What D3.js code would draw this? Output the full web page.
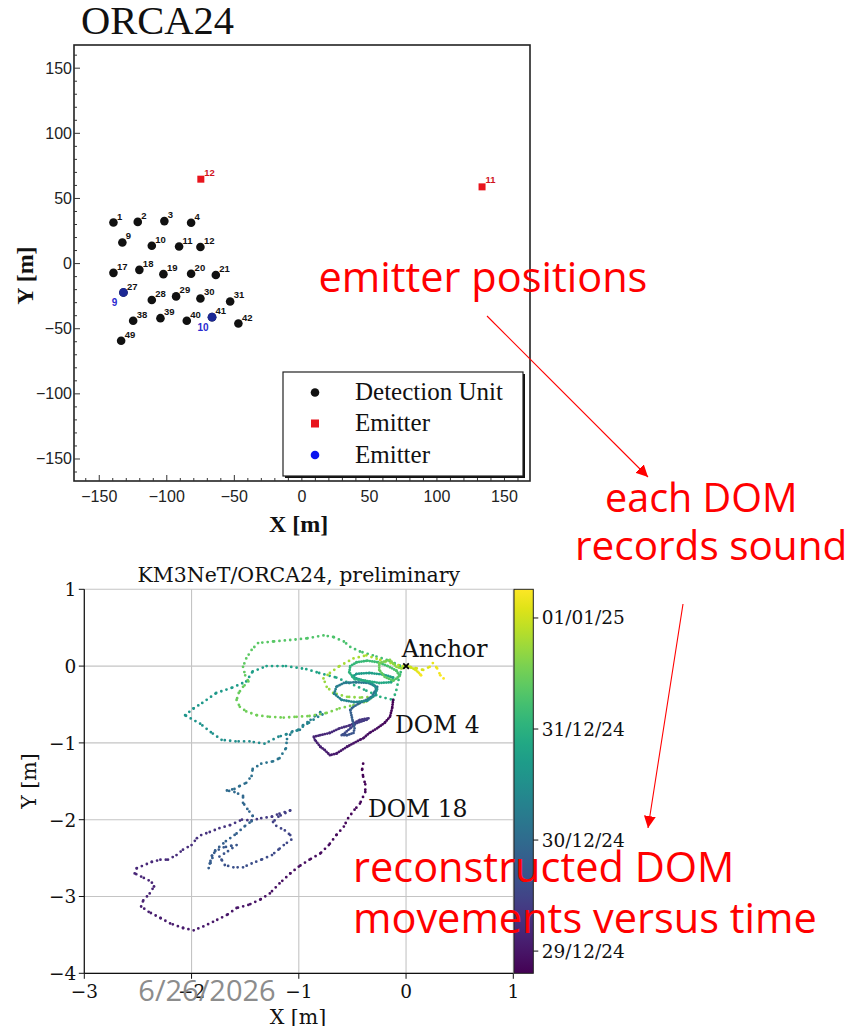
<!DOCTYPE html>
<html>
<head>
<meta charset="utf-8">
<script src="https://cdn.jsdelivr.net/npm/d3@7"></script>
<style>
  body { margin: 0; background: #fff; }
  svg { display: block; }
</style>
</head>
<body>
<svg id="chart" width="851" height="1026"></svg>
<script>
// ---------- Array layout (top panel) ----------
const duIds = [1, 2, 3, 4, 9, 10, 11, 12, 17, 18, 19, 20, 21, 27, 28, 29, 30, 31, 38, 39, 40, 41, 42, 49];
const duX = [-139.5, -121.5, -101.8, -82.0, -132.9, -111.1, -90.9, -75.1, -139.5, -120.3, -102.5, -82.0, -63.7,
             -132.1, -111.1, -93.1, -75.1, -53.1, -124.9, -104.7, -85.2, -66.5, -47.0, -133.8];
const duY = [31.5, 32.0, 32.6, 31.3, 16.2, 13.7, 13.1, 12.7, -7.1, -4.8, -8.1, -7.8, -8.8,
             -22.2, -28.0, -25.2, -26.8, -29.1, -43.9, -41.9, -43.9, -41.1, -46.0, -59.2];

const redEmitterIds = [12, 11];
const redEmitterX = [-74.8, 133.4];
const redEmitterY = [64.8, 58.9];

const blueEmitterIds = [9, 10];
const blueEmitterX = [-132.1, -66.5];
const blueEmitterY = [-22.2, -41.1];

const topMajorTicks = [-150, -100, -50, 0, 50, 100, 150];
const legendLabels = ["Detection Unit", "Emitter", "Emitter"];

// ---------- DOM trajectories (bottom panel): [x m, y m, hours after 29/12/24 00:00] ----------
const dom18Track = [
  [-0.40,-1.27,-4.8],[-0.41,-1.35,-4.6],[-0.40,-1.44,-4.4],[-0.38,-1.54,-4.2],[-0.38,-1.64,-4.0],
  [-0.43,-1.79,-3.7],[-0.48,-1.87,-3.5],[-0.54,-1.98,-3.3],[-0.58,-2.09,-3.1],[-0.65,-2.20,-2.9],
  [-0.72,-2.33,-2.7],[-0.80,-2.44,-2.5],[-0.90,-2.52,-2.3],[-1.00,-2.61,-2.0],[-1.08,-2.70,-1.8],
  [-1.18,-2.83,-1.5],[-1.27,-2.96,-1.2],[-1.36,-3.04,-0.9],[-1.47,-3.11,-0.6],[-1.58,-3.15,-0.3],
  [-1.67,-3.24,0.0],[-1.80,-3.33,0.3],[-1.89,-3.39,0.6],[-1.98,-3.44,0.9],[-2.08,-3.41,1.2],
  [-2.20,-3.35,1.5],[-2.29,-3.28,1.8],[-2.40,-3.20,2.1],[-2.47,-3.13,2.4],[-2.45,-3.05,2.7],
  [-2.39,-2.96,3.0],[-2.35,-2.87,3.3],[-2.37,-2.82,3.5],[-2.40,-2.79,3.7],[-2.47,-2.74,3.9],
  [-2.53,-2.70,4.1],[-2.51,-2.63,4.3],[-2.37,-2.55,4.7],[-2.29,-2.52,5.0],[-2.22,-2.52,5.3],
  [-2.14,-2.46,5.6],[-2.08,-2.39,5.9],[-2.00,-2.33,6.2],[-1.95,-2.24,6.5],[-1.91,-2.20,6.8],
  [-1.83,-2.16,7.1],[-1.74,-2.11,7.4],[-1.64,-2.07,7.8],[-1.53,-2.00,8.2],[-1.44,-2.01,8.6],
  [-1.35,-1.98,9.0],[-1.25,-1.96,9.4],[-1.18,-1.92,9.8],[-1.08,-1.88,10.2],
  [-1.19,-1.96,10.8],[-1.24,-2.03,11.2],[-1.21,-2.08,11.6],[-1.13,-2.14,12.0],[-1.08,-2.20,12.4],
  [-1.07,-2.26,12.8],[-1.14,-2.33,13.2],[-1.19,-2.39,13.6],[-1.25,-2.46,14.0],[-1.35,-2.52,14.4],
  [-1.44,-2.57,14.8],[-1.52,-2.62,15.2],[-1.61,-2.62,15.6],[-1.69,-2.59,16.0],[-1.72,-2.52,16.4],
  [-1.74,-2.48,16.7],[-1.66,-2.41,17.0],[-1.58,-2.33,17.3],[-1.63,-2.34,17.6],[-1.70,-2.36,17.9],
  [-1.78,-2.41,18.2],[-1.81,-2.47,18.5],[-1.83,-2.57,18.8],[-1.84,-2.63,19.1],
  [-1.78,-2.40,19.5],[-1.68,-2.28,20.0],[-1.58,-2.18,20.5],[-1.50,-2.08,21.0],[-1.44,-2.02,21.4],
  [-1.43,-1.95,21.8],[-1.48,-1.86,22.2],[-1.52,-1.78,22.6],[-1.52,-1.69,23.0],[-1.60,-1.64,23.4],
  [-1.67,-1.62,23.8],[-1.60,-1.60,24.2],[-1.55,-1.56,24.6],[-1.49,-1.52,25.0],[-1.44,-1.43,25.5],
  [-1.43,-1.34,26.0],[-1.35,-1.27,26.5],[-1.24,-1.24,27.0],[-1.18,-1.20,27.5],[-1.12,-1.07,28.0],
  [-1.11,-0.95,28.5],[-1.06,-0.85,29.0],[-0.99,-0.83,29.5],[-0.96,-0.77,30.0],[-0.89,-0.70,30.5],
  [-0.84,-0.64,31.0],[-0.80,-0.60,31.3],[-0.78,-0.63,31.6],[-0.82,-0.66,32.0],[-0.92,-0.75,32.6],
  [-1.02,-0.84,33.2],[-1.12,-0.89,33.8],[-1.19,-0.92,34.2],[-1.32,-1.01,34.8],[-1.46,-0.98,35.4],
  [-1.59,-0.98,36.0],[-1.72,-0.96,36.6],[-1.82,-0.86,37.2],[-1.92,-0.75,37.8],[-2.06,-0.64,38.4],
  [-1.98,-0.55,39.0],[-1.90,-0.48,39.5],[-1.77,-0.35,40.0],[-1.62,-0.28,40.5],[-1.49,-0.20,41.0],
  [-1.43,-0.07,41.5],[-1.30,0.00,42.0],[-1.12,0.00,42.6],[-0.93,-0.04,43.2],[-0.81,-0.09,43.8],
  [-0.65,-0.15,44.4],[-0.53,-0.22,45.0],[-0.37,-0.32,46.0],
  [-0.24,-0.40,47.0],[-0.12,-0.44,48.0],[-0.09,-0.31,49.0],[-0.07,-0.18,50.0],[-0.05,-0.08,51.0],
  [-0.06,0.01,52.0],[-0.18,0.08,52.5],[-0.31,0.14,53.0],[-0.43,0.19,53.5],[-0.52,0.25,54.0],
  [-0.58,0.32,54.4],[-0.68,0.38,54.8],[-0.77,0.40,55.2],[-0.93,0.36,55.6],[-1.08,0.34,56.0],
  [-1.24,0.32,56.4],[-1.38,0.30,56.8],[-1.44,0.21,57.1],[-1.49,0.10,57.4],[-1.52,-0.01,57.7],
  [-1.50,-0.12,58.0],[-1.47,-0.20,58.3],[-1.52,-0.27,58.6],[-1.56,-0.35,58.9],[-1.58,-0.44,59.2],
  [-1.55,-0.53,59.5],[-1.49,-0.59,59.8],[-1.39,-0.64,60.1],[-1.27,-0.66,60.4],[-1.14,-0.67,60.7],
  [-1.02,-0.66,61.0],[-0.90,-0.65,61.3],[-0.74,-0.61,61.7],[-0.62,-0.55,62.1],[-0.49,-0.51,62.5],
  [-0.37,-0.46,62.9],[-0.31,-0.40,63.3],[-0.43,-0.41,63.8],[-0.55,-0.40,64.3],[-0.68,-0.35,64.8],
  [-0.74,-0.27,65.3],[-0.77,-0.16,65.8],[-0.71,-0.09,66.3],[-0.62,0.00,66.8],[-0.49,0.10,67.3],
  [-0.37,0.14,67.8],[-0.24,0.08,68.3],[-0.12,0.03,69.0],[-0.03,0.00,70.0],[0.04,-0.01,71.0],
  [0.10,-0.03,72.0],[0.16,-0.05,73.0],[0.22,-0.01,74.0],[0.25,0.04,75.0],[0.29,-0.03,76.0],
  [0.32,-0.12,77.0],[0.35,-0.16,77.6],[0.36,-0.14,78.0]
];

const dom4Track = [
  [-0.12,-0.44,-4.8],[-0.13,-0.55,-4.2],[-0.15,-0.66,-3.6],[-0.20,-0.74,-3.0],[-0.27,-0.81,-2.4],
  [-0.34,-0.87,-1.8],[-0.40,-0.94,-1.2],[-0.43,-0.96,-0.8],[-0.55,-1.05,0.0],[-0.65,-1.14,0.8],
  [-0.71,-1.16,1.4],[-0.76,-1.09,2.0],[-0.80,-1.05,2.5],[-0.85,-0.96,3.1],[-0.86,-0.92,3.6],
  [-0.80,-0.90,4.2],[-0.71,-0.87,4.8],[-0.62,-0.81,5.6],[-0.52,-0.77,6.4],[-0.43,-0.70,7.2],
  [-0.35,-0.68,8.0],[-0.37,-0.70,9.0],[-0.46,-0.74,10.5],[-0.52,-0.81,12.0],[-0.57,-0.87,13.5],
  [-0.60,-0.90,15.0],[-0.55,-0.90,16.0],[-0.49,-0.87,17.0],[-0.48,-0.81,18.0],[-0.50,-0.70,19.0],
  [-0.52,-0.57,20.5],[-0.49,-0.53,21.5],[-0.43,-0.48,22.5],[-0.37,-0.44,23.5],[-0.32,-0.40,24.5],
  [-0.29,-0.33,25.5],[-0.27,-0.27,26.5],
  [-0.35,-0.22,27.5],[-0.47,-0.21,28.5],[-0.58,-0.22,29.5],[-0.65,-0.27,30.5],[-0.67,-0.36,31.5],
  [-0.60,-0.44,32.5],[-0.48,-0.47,33.5],[-0.36,-0.45,34.5],[-0.29,-0.38,35.5],[-0.27,-0.30,36.5],
  [-0.32,-0.22,37.5],[-0.42,-0.18,38.5],[-0.50,-0.14,39.5],[-0.46,-0.10,40.5],[-0.34,-0.09,41.5],
  [-0.21,-0.11,42.5],[-0.12,-0.15,43.5],[-0.14,-0.21,44.5],[-0.25,-0.22,45.5],[-0.38,-0.19,46.5],
  [-0.48,-0.17,47.5],[-0.53,-0.08,48.5],[-0.52,0.00,49.5],[-0.46,0.05,50.5],[-0.36,0.07,51.5],
  [-0.26,0.05,52.5],[-0.17,0.00,53.5],[-0.09,-0.06,54.5],[-0.06,-0.13,55.5],[-0.12,-0.19,56.5],
  [-0.20,-0.14,57.5],[-0.25,-0.05,58.5],[-0.25,0.04,60.0],[-0.15,0.08,62.0],[-0.09,-0.01,64.0],
  [-0.04,-0.03,66.0],[0.00,0.00,68.0],[0.05,-0.02,71.0],[0.09,-0.05,73.0],[0.12,-0.09,75.0],
  [0.14,-0.12,77.0],[0.13,-0.13,78.0]
];

const anchorPos = [0, 0];
const bottomXTicks = [-3, -2, -1, 0, 1];
const bottomYTicks = [-4, -3, -2, -1, 0, 1];
const timeRange = [-4.8, 78.2];                 // hours after 29/12/24 00:00
const colorbarTicks = [0, 24, 48, 72];
const colorbarLabels = ["29/12/24", "30/12/24", "31/12/24", "01/01/25"];

// ---------- helpers ----------
const svg = d3.select("#chart");
const fmt = v => (v < 0 ? "\u2212" + Math.abs(v) : String(v));

// ================= TOP PANEL: ORCA24 layout =================
const T = { left: 74, right: 530, top: 45, bottom: 481 };
const xT = d3.scaleLinear().domain([-168.7, 168.9]).range([T.left, T.right]);
const yT = d3.scaleLinear().domain([-166.9, 167.8]).range([T.bottom, T.top]);
const gT = svg.append("g");

svg.append("text").attr("x", 81).attr("y", 34)
  .attr("font-family", "Liberation Serif, serif").attr("font-size", 40.5).attr("fill", "#111")
  .text("ORCA24");

gT.append("rect").attr("x", T.left).attr("y", T.top)
  .attr("width", T.right - T.left).attr("height", T.bottom - T.top)
  .attr("fill", "none").attr("stroke", "#222").attr("stroke-width", 1.6);

const minorT = d3.range(-160, 170, 10).filter(v => v % 50 !== 0);
// inward ticks on the bottom and left edges
gT.selectAll(".xmaj").data(topMajorTicks).join("line")
  .attr("x1", d => xT(d)).attr("x2", d => xT(d)).attr("y1", T.bottom).attr("y2", T.bottom - 6)
  .attr("stroke", "#333").attr("stroke-width", 1);
gT.selectAll(".xmin").data(minorT).join("line")
  .attr("x1", d => xT(d)).attr("x2", d => xT(d)).attr("y1", T.bottom).attr("y2", T.bottom - 3)
  .attr("stroke", "#333").attr("stroke-width", 1);
gT.selectAll(".ymaj").data(topMajorTicks).join("line")
  .attr("y1", d => yT(d)).attr("y2", d => yT(d)).attr("x1", T.left).attr("x2", T.left + 6)
  .attr("stroke", "#333").attr("stroke-width", 1);
gT.selectAll(".ymin").data(minorT).join("line")
  .attr("y1", d => yT(d)).attr("y2", d => yT(d)).attr("x1", T.left).attr("x2", T.left + 3)
  .attr("stroke", "#333").attr("stroke-width", 1);

gT.selectAll(".xlab").data(topMajorTicks).join("text")
  .attr("x", d => xT(d)).attr("y", 502).attr("text-anchor", "middle")
  .attr("font-family", "Liberation Sans, Arial, sans-serif").attr("font-size", 16).attr("fill", "#222")
  .text(fmt);
gT.selectAll(".ylab").data(topMajorTicks).join("text")
  .attr("x", 72).attr("y", d => yT(d) + 5.5).attr("text-anchor", "end")
  .attr("font-family", "Liberation Sans, Arial, sans-serif").attr("font-size", 16).attr("fill", "#222")
  .text(fmt);

gT.append("text").attr("x", 298.7).attr("y", 532).attr("text-anchor", "middle")
  .attr("font-family", "Liberation Serif, serif").attr("font-weight", "bold").attr("font-size", 24)
  .attr("fill", "#111").text("X [m]");
gT.append("text").attr("transform", "translate(33,275.6) rotate(-90)").attr("text-anchor", "middle")
  .attr("font-family", "Liberation Serif, serif").attr("font-weight", "bold").attr("font-size", 24)
  .attr("fill", "#111").text("Y [m]");

// detection units
const duData = duIds.map((id, i) => ({ id, x: duX[i], y: duY[i] }));
gT.selectAll(".du").data(duData).join("circle")
  .attr("cx", d => xT(d.x)).attr("cy", d => yT(d.y)).attr("r", 4.3).attr("fill", "#111");
gT.selectAll(".dul").data(duData).join("text")
  .attr("x", d => xT(d.x) + 3.5).attr("y", d => yT(d.y) - 3)
  .attr("font-family", "Liberation Sans, Arial, sans-serif").attr("font-weight", "bold")
  .attr("font-size", 9.5).attr("fill", "#111").text(d => d.id);

// red emitters
const redData = redEmitterIds.map((id, i) => ({ id, x: redEmitterX[i], y: redEmitterY[i] }));
gT.selectAll(".re").data(redData).join("rect")
  .attr("x", d => xT(d.x) - 3.5).attr("y", d => yT(d.y) - 3.5).attr("width", 7).attr("height", 7)
  .attr("fill", "#e8141c");
gT.selectAll(".rel").data(redData).join("text")
  .attr("x", d => xT(d.x) + 3.5).attr("y", d => yT(d.y) - 3.5)
  .attr("font-family", "Liberation Sans, Arial, sans-serif").attr("font-weight", "bold")
  .attr("font-size", 9.5).attr("fill", "#d0141c").text(d => d.id);

// blue emitters
const blueData = blueEmitterIds.map((id, i) => ({ id, x: blueEmitterX[i], y: blueEmitterY[i] }));
gT.selectAll(".be").data(blueData).join("circle")
  .attr("cx", d => xT(d.x)).attr("cy", d => yT(d.y)).attr("r", 4.4).attr("fill", "#1c2894");
gT.selectAll(".bel").data(blueData).join("text")
  .attr("x", d => xT(d.x) - 9).attr("y", d => yT(d.y) + 13.5).attr("text-anchor", "middle")
  .attr("font-family", "Liberation Sans, Arial, sans-serif").attr("font-weight", "bold")
  .attr("font-size", 10).attr("fill", "#2a2ad0").text(d => d.id);

// legend
const L = { x: 283, y: 372, w: 240, h: 104 };
gT.append("rect").attr("x", L.x + 2).attr("y", L.y + 2).attr("width", L.w).attr("height", L.h).attr("fill", "#111");
gT.append("rect").attr("x", L.x).attr("y", L.y).attr("width", L.w).attr("height", L.h)
  .attr("fill", "#fff").attr("stroke", "#222").attr("stroke-width", 1.2);
const legRowY = [392.5, 423.5, 455];
gT.append("circle").attr("cx", 315).attr("cy", legRowY[0]).attr("r", 4.3).attr("fill", "#111");
gT.append("rect").attr("x", 311).attr("y", legRowY[1] - 4).attr("width", 8).attr("height", 8).attr("fill", "#e8141c");
gT.append("circle").attr("cx", 315).attr("cy", legRowY[2]).attr("r", 4.3).attr("fill", "#0a14f0");
gT.selectAll(".legt").data(legendLabels).join("text")
  .attr("x", 355).attr("y", (d, i) => legRowY[i] + 7.5)
  .attr("font-family", "Liberation Serif, serif").attr("font-size", 25).attr("fill", "#111")
  .text(d => d);

// ================= BOTTOM PANEL: DOM movements =================
const B = { left: 84.3, right: 513.3, top: 589.3, bottom: 973.3 };
const xB = d3.scaleLinear().domain([-3, 1]).range([B.left, B.right]);
const yB = d3.scaleLinear().domain([-4, 1]).range([B.bottom, B.top]);
const color = d3.scaleSequential(d3.interpolateViridis).domain(timeRange);
const gB = svg.append("g");
const serif = "DejaVu Serif, serif";

gB.append("text").attr("x", (B.left + B.right) / 2).attr("y", 581.5).attr("text-anchor", "middle")
  .attr("font-family", serif).attr("font-size", 20.5).attr("fill", "#111")
  .text("KM3NeT/ORCA24, preliminary");

// grid
gB.selectAll(".gx").data(bottomXTicks).join("line")
  .attr("x1", d => xB(d)).attr("x2", d => xB(d)).attr("y1", B.top).attr("y2", B.bottom)
  .attr("stroke", "#c4c4c4").attr("stroke-width", 1.1);
gB.selectAll(".gy").data(bottomYTicks).join("line")
  .attr("y1", d => yB(d)).attr("y2", d => yB(d)).attr("x1", B.left).attr("x2", B.right)
  .attr("stroke", "#c4c4c4").attr("stroke-width", 1.1);

// spines
gB.append("line").attr("x1", B.left).attr("x2", B.left).attr("y1", B.top).attr("y2", B.bottom)
  .attr("stroke", "#111").attr("stroke-width", 1.2);
gB.append("line").attr("x1", B.left).attr("x2", B.right).attr("y1", B.bottom).attr("y2", B.bottom)
  .attr("stroke", "#111").attr("stroke-width", 1.2);

// ticks + labels
gB.selectAll(".tx").data(bottomXTicks).join("line")
  .attr("x1", d => xB(d)).attr("x2", d => xB(d)).attr("y1", B.bottom).attr("y2", B.bottom + 5.5)
  .attr("stroke", "#111").attr("stroke-width", 1);
gB.selectAll(".ty").data(bottomYTicks).join("line")
  .attr("y1", d => yB(d)).attr("y2", d => yB(d)).attr("x1", B.left).attr("x2", B.left - 5.5)
  .attr("stroke", "#111").attr("stroke-width", 1);
gB.selectAll(".lx").data(bottomXTicks).join("text")
  .attr("x", d => xB(d)).attr("y", 997.5).attr("text-anchor", "middle")
  .attr("font-family", serif).attr("font-size", 18.5).attr("fill", "#111").text(fmt);
gB.selectAll(".ly").data(bottomYTicks).join("text")
  .attr("x", B.left - 8).attr("y", d => yB(d) + 6.8).attr("text-anchor", "end")
  .attr("font-family", serif).attr("font-size", 18.5).attr("fill", "#111").text(fmt);

gB.append("text").attr("x", 298).attr("y", 1023.5).attr("text-anchor", "middle")
  .attr("font-family", serif).attr("font-size", 20.5).attr("fill", "#111").text("X [m]");
gB.append("text").attr("transform", "translate(36,781) rotate(-90)").attr("text-anchor", "middle")
  .attr("font-family", serif).attr("font-size", 20.5).attr("fill", "#111").text("Y [m]");

// trajectories: dotted segments coloured by time
function drawTrack(track, dotSize, gap) {
  const g = gB.append("g");
  const segs = d3.pairs(track);
  g.selectAll("line").data(segs).join("line")
    .attr("x1", d => xB(d[0][0])).attr("y1", d => yB(d[0][1]))
    .attr("x2", d => xB(d[1][0])).attr("y2", d => yB(d[1][1]))
    .attr("stroke", d => color((d[0][2] + d[1][2]) / 2))
    .attr("stroke-width", dotSize).attr("stroke-linecap", "round")
    .attr("stroke-dasharray", `0 ${gap}`);
}
drawTrack(dom18Track, 2.8, 5.4);
drawTrack(dom4Track, 2.8, 2.4);

// anchor marker
gB.append("path").attr("d", d3.symbol(d3.symbolX, 22)())
  .attr("transform", `translate(${xB(anchorPos[0])},${yB(anchorPos[1])})`)
  .attr("stroke", "#000").attr("stroke-width", 1.8);

gB.append("text").attr("x", 401.7).attr("y", 656.7).attr("font-family", serif).attr("font-size", 23.5)
  .attr("fill", "#111").text("Anchor");
gB.append("text").attr("x", 395).attr("y", 733.3).attr("font-family", serif).attr("font-size", 23.5)
  .attr("fill", "#111").text("DOM 4");
gB.append("text").attr("x", 368).attr("y", 816.7).attr("font-family", serif).attr("font-size", 23.5)
  .attr("fill", "#111").text("DOM 18");

// colour bar
const CB = { x: 514, w: 19.3 };
const yC = d3.scaleLinear().domain(timeRange).range([B.bottom, B.top]);
const defs = svg.append("defs");
const grad = defs.append("linearGradient").attr("id", "viridisGrad")
  .attr("x1", 0).attr("y1", 1).attr("x2", 0).attr("y2", 0);
d3.range(0, 1.0001, 0.05).forEach(f => {
  grad.append("stop").attr("offset", f).attr("stop-color", d3.interpolateViridis(f));
});
gB.append("rect").attr("x", CB.x).attr("y", B.top).attr("width", CB.w).attr("height", B.bottom - B.top)
  .attr("fill", "url(#viridisGrad)").attr("stroke", "#222").attr("stroke-width", 1);
gB.selectAll(".cbt").data(colorbarTicks).join("line")
  .attr("x1", CB.x + CB.w).attr("x2", CB.x + CB.w + 5).attr("y1", d => yC(d)).attr("y2", d => yC(d))
  .attr("stroke", "#111").attr("stroke-width", 1);
gB.selectAll(".cbl").data(colorbarTicks).join("text")
  .attr("x", CB.x + CB.w + 8.5).attr("y", (d) => yC(d) + 6.5)
  .attr("font-family", serif).attr("font-size", 18.5).attr("fill", "#111")
  .text((d, i) => colorbarLabels[i]);

// ================= annotations =================
defs.append("marker").attr("id", "arrowHead").attr("viewBox", "0 0 10 10")
  .attr("refX", 10).attr("refY", 5).attr("markerWidth", 12).attr("markerHeight", 12)
  .attr("markerUnits", "userSpaceOnUse").attr("orient", "auto")
  .append("path").attr("d", "M0,0 L10,5 L0,10 Z").attr("fill", "#ff0000");

const ann = svg.append("g");
ann.append("line").attr("x1", 487).attr("y1", 316).attr("x2", 648).attr("y2", 477)
  .attr("stroke", "#ff0000").attr("stroke-width", 1.1).attr("marker-end", "url(#arrowHead)");
ann.append("line").attr("x1", 683).attr("y1", 604).attr("x2", 648).attr("y2", 828)
  .attr("stroke", "#ff0000").attr("stroke-width", 1.1).attr("marker-end", "url(#arrowHead)");

const annFont = "Open Sans, Noto Sans, sans-serif";
const annTexts = [
  { t: "emitter positions", x: 318.5, y: 291.7, s: 41.5 },
  { t: "each DOM", x: 605, y: 511.7, s: 39.5 },
  { t: "records sound", x: 575, y: 560, s: 40.5 },
  { t: "reconstructed DOM", x: 353, y: 881.7, s: 41.5 },
  { t: "movements versus time", x: 353, y: 933.3, s: 41.5 }
];
ann.selectAll(".at").data(annTexts).join("text")
  .attr("x", d => d.x).attr("y", d => d.y)
  .attr("font-family", annFont).attr("font-size", d => d.s).attr("fill", "#ff0000").text(d => d.t);

ann.append("text").attr("x", 138.3).attr("y", 1000.7)
  .attr("font-family", annFont).attr("font-size", 29).attr("fill", "#8c8c8c").text("6/26/2026");
</script>
</body>
</html>
